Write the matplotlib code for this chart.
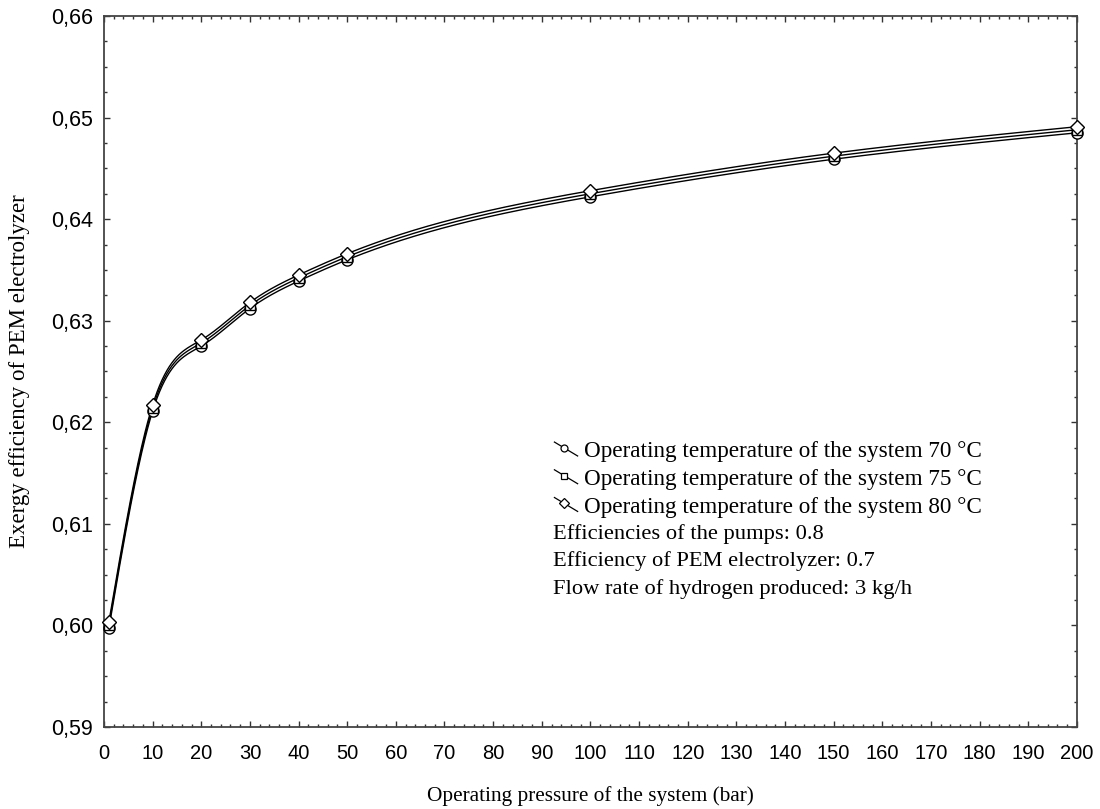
import numpy as np
import matplotlib
matplotlib.use("Agg")
import matplotlib.pyplot as plt
from matplotlib.ticker import MultipleLocator, FuncFormatter
from matplotlib.legend_handler import HandlerBase
from matplotlib.lines import Line2D

# ---- data ----
pressure = [1, 10, 20, 30, 40, 50, 100, 150, 200]
eff_70 = [0.5997, 0.6211, 0.6275, 0.6312, 0.6339, 0.6360, 0.6422, 0.6459, 0.6485]
eff_75 = [0.6000, 0.6214, 0.6278, 0.6315, 0.6342, 0.6363, 0.6425, 0.6462, 0.6488]
eff_80 = [0.6003, 0.6217, 0.6281, 0.6318, 0.6345, 0.6366, 0.6428, 0.6465, 0.6491]
series_labels = ["Operating temperature of the system 70 \u00b0C",
                 "Operating temperature of the system 75 \u00b0C",
                 "Operating temperature of the system 80 \u00b0C"]
note_lines = ["Efficiencies of the pumps: 0.8",
              "Efficiency of PEM electrolyzer: 0.7",
              "Flow rate of hydrogen produced: 3 kg/h"]
x_label = "Operating pressure of the system (bar)"
y_label = "Exergy efficiency of PEM electrolyzer"


def natural_spline(x, y, xs):
    x = np.asarray(x, float); y = np.asarray(y, float)
    n = len(x); h = np.diff(x)
    A = np.zeros((n, n)); b = np.zeros(n)
    A[0, 0] = 1; A[-1, -1] = 1
    for i in range(1, n - 1):
        A[i, i - 1] = h[i - 1]
        A[i, i] = 2 * (h[i - 1] + h[i])
        A[i, i + 1] = h[i]
        b[i] = 6 * ((y[i + 1] - y[i]) / h[i] - (y[i] - y[i - 1]) / h[i - 1])
    M = np.linalg.solve(A, b)
    idx = np.clip(np.searchsorted(x, xs) - 1, 0, n - 2)
    x0 = x[idx]; x1 = x[idx + 1]; hh = x1 - x0
    t0 = x1 - xs; t1 = xs - x0
    return (M[idx] * t0**3 / (6 * hh) + M[idx + 1] * t1**3 / (6 * hh)
            + (y[idx] / hh - M[idx] * hh / 6) * t0
            + (y[idx + 1] / hh - M[idx + 1] * hh / 6) * t1)


class DiagHandler(HandlerBase):
    def __init__(self, marker, ms):
        super().__init__()
        self.marker = marker; self.ms = ms

    def create_artists(self, legend, orig_handle, xdescent, ydescent,
                       width, height, fontsize, trans):
        x0, x1 = -xdescent, -xdescent + width
        y0, y1 = -ydescent + 0.05 * height, -ydescent + 0.95 * height
        ln = Line2D([x0, x1], [y1, y0], color="black", lw=0.9, transform=trans)
        mk = Line2D([x0 + 0.42 * width], [y1 - 0.42 * (y1 - y0)], marker=self.marker,
                    ms=self.ms, mfc="white", mec="black", mew=0.9, ls="none",
                    transform=trans)
        return [ln, mk]


fig = plt.figure(figsize=(11, 8.09), dpi=100)
ax = fig.add_axes([0.0945, 0.1014, 0.8845, 0.8788])

xs = np.linspace(pressure[0], pressure[-1], 800)
markers = ["o", "s", "D"]
msizes = [8, 7.5, 7]
handles = []
for ys, mk, ms, lab in zip([eff_70, eff_75, eff_80], markers, msizes, series_labels):
    ax.plot(xs, natural_spline(pressure, ys, xs), color="black", lw=1.0, zorder=2)
    h, = ax.plot(pressure, ys, ls="none", marker=mk, ms=ms, mfc="white",
                 mec="black", mew=1.0, zorder=3, label=lab, clip_on=False)
    handles.append(h)

ax.set_xlim(0, 200)
ax.set_ylim(0.59, 0.66)
ax.xaxis.set_major_locator(MultipleLocator(10))
ax.xaxis.set_minor_locator(MultipleLocator(2))
ax.yaxis.set_major_locator(MultipleLocator(0.01))
ax.yaxis.set_minor_locator(MultipleLocator(0.0025))
ax.yaxis.set_major_formatter(FuncFormatter(lambda v, p: f"{v:.2f}".replace(".", ",")))
ax.tick_params(which="both", direction="in", top=True, right=True,
               color="#333333", width=1.0)
ax.tick_params(which="major", length=4)
ax.tick_params(which="minor", length=2.5)
ax.tick_params(axis="x", which="major", pad=12)
ax.tick_params(axis="y", which="major", pad=8)
for lab in ax.get_xticklabels():
    lab.set_fontfamily("Liberation Sans")
    lab.set_fontsize(14.5)
for lab in ax.get_yticklabels():
    lab.set_fontfamily("Liberation Sans")
    lab.set_fontsize(15.5)
for s in ax.spines.values():
    s.set_color("#444444"); s.set_linewidth(1.3)

ax.set_xlabel(x_label, fontfamily="Liberation Serif", fontsize=15.3, labelpad=17)
ax.set_ylabel(y_label, fontfamily="Liberation Serif", fontsize=16.5, labelpad=15)

hmap = {h: DiagHandler(m, 5) for h, m in zip(handles, markers)}
leg = ax.legend(handles=handles, loc="upper left", bbox_to_anchor=(0.463, 0.402),
                frameon=False, handler_map=hmap, handlelength=1.0, handleheight=0.65,
                handletextpad=0.26, labelspacing=0.29, borderpad=0, borderaxespad=0,
                prop={"family": "Liberation Serif", "size": 16.7})

for i, t in enumerate(note_lines):
    ax.text(0.4615, [0.2644, 0.2263, 0.1874][i], t, transform=ax.transAxes, ha="left",
            va="baseline", fontfamily="Liberation Serif", fontsize=16.2)

fig.savefig("out.png", dpi=100)
